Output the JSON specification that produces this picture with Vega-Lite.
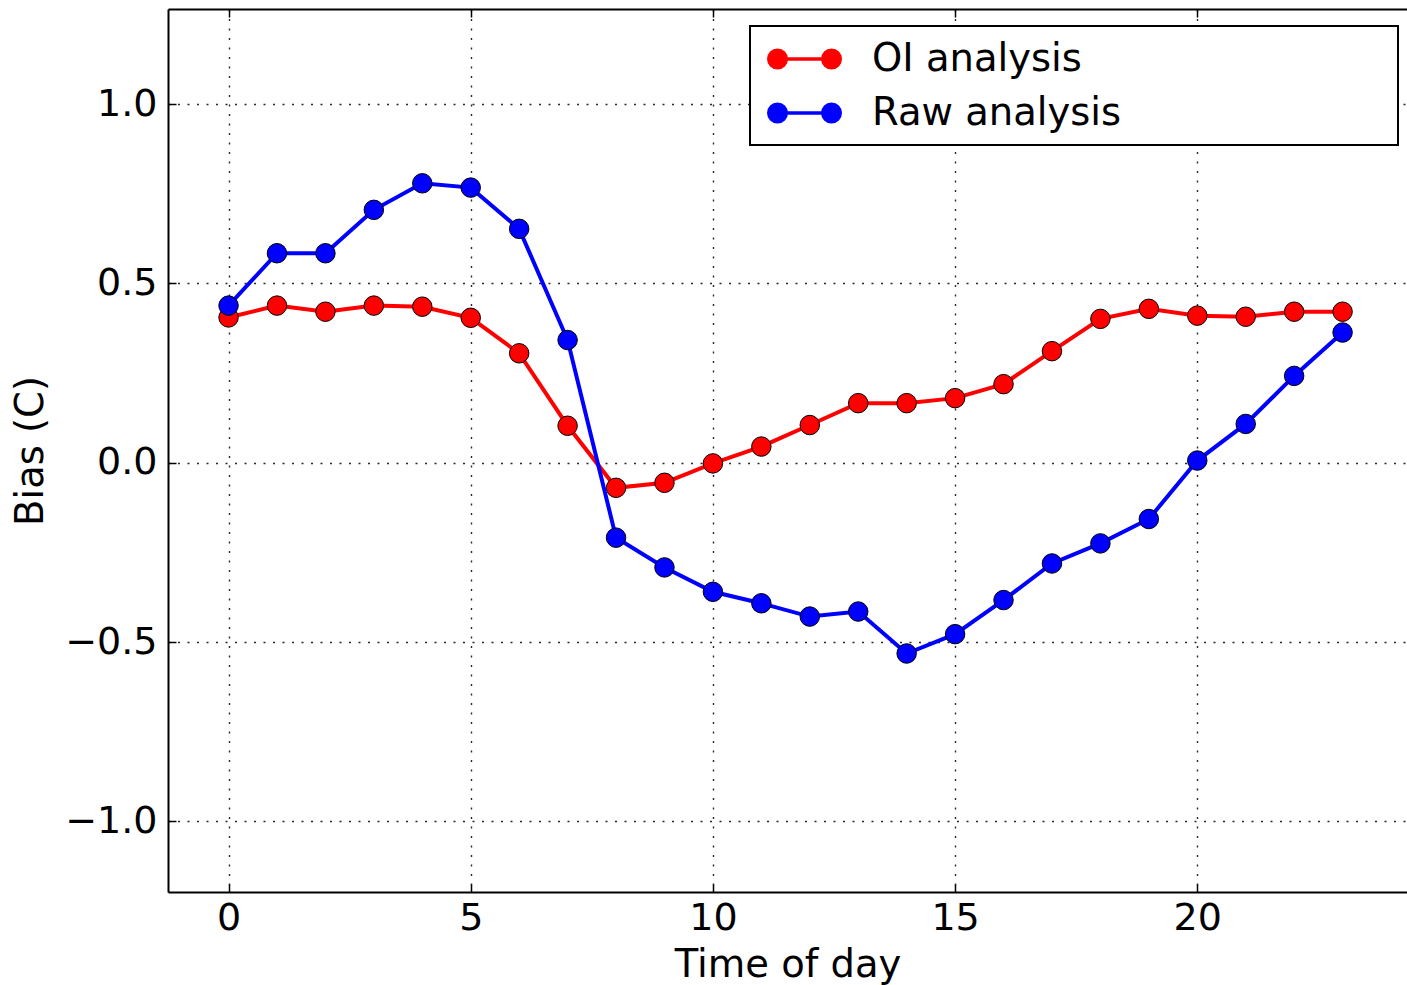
{
  "$schema": "https://vega.github.io/schema/vega-lite/v6.json",
  "width": 1239,
  "height": 883,
  "autosize": {"type": "none"},
  "padding": {"left": 168, "top": 9, "right": 0, "bottom": 93},
  "background": "white",
  "config": {
    "view": {"stroke": null},
    "font": "DejaVu Sans",
    "axis": {
      "labelFont": "DejaVu Sans",
      "labelFontSize": 38,
      "labelColor": "black",
      "titleFont": "DejaVu Sans",
      "titleFontSize": 38.5,
      "titleFontWeight": "normal",
      "titleColor": "black",
      "domainColor": "black",
      "domainWidth": 2,
      "tickColor": "black",
      "tickWidth": 1.5,
      "tickSize": -8,
      "gridColor": "#111111",
      "gridDash": [2, 7.5],
      "gridWidth": 1.4,
      "gridOpacity": 0.9
    }
  },
  "data": {
    "values": [
      {"hour": 0, "series": "OI analysis", "bias": 0.405},
      {"hour": 1, "series": "OI analysis", "bias": 0.438},
      {"hour": 2, "series": "OI analysis", "bias": 0.421},
      {"hour": 3, "series": "OI analysis", "bias": 0.438},
      {"hour": 4, "series": "OI analysis", "bias": 0.435},
      {"hour": 5, "series": "OI analysis", "bias": 0.404},
      {"hour": 6, "series": "OI analysis", "bias": 0.305},
      {"hour": 7, "series": "OI analysis", "bias": 0.103},
      {"hour": 8, "series": "OI analysis", "bias": -0.07},
      {"hour": 9, "series": "OI analysis", "bias": -0.056},
      {"hour": 10, "series": "OI analysis", "bias": -0.002},
      {"hour": 11, "series": "OI analysis", "bias": 0.045},
      {"hour": 12, "series": "OI analysis", "bias": 0.105},
      {"hour": 13, "series": "OI analysis", "bias": 0.166},
      {"hour": 14, "series": "OI analysis", "bias": 0.166},
      {"hour": 15, "series": "OI analysis", "bias": 0.18},
      {"hour": 16, "series": "OI analysis", "bias": 0.219},
      {"hour": 17, "series": "OI analysis", "bias": 0.311},
      {"hour": 18, "series": "OI analysis", "bias": 0.401},
      {"hour": 19, "series": "OI analysis", "bias": 0.429},
      {"hour": 20, "series": "OI analysis", "bias": 0.41},
      {"hour": 21, "series": "OI analysis", "bias": 0.407},
      {"hour": 22, "series": "OI analysis", "bias": 0.421},
      {"hour": 23, "series": "OI analysis", "bias": 0.421},
      {"hour": 0, "series": "Raw analysis", "bias": 0.438},
      {"hour": 1, "series": "Raw analysis", "bias": 0.584},
      {"hour": 2, "series": "Raw analysis", "bias": 0.584},
      {"hour": 3, "series": "Raw analysis", "bias": 0.705},
      {"hour": 4, "series": "Raw analysis", "bias": 0.779},
      {"hour": 5, "series": "Raw analysis", "bias": 0.767},
      {"hour": 6, "series": "Raw analysis", "bias": 0.652},
      {"hour": 7, "series": "Raw analysis", "bias": 0.342},
      {"hour": 8, "series": "Raw analysis", "bias": -0.209},
      {"hour": 9, "series": "Raw analysis", "bias": -0.292},
      {"hour": 10, "series": "Raw analysis", "bias": -0.36},
      {"hour": 11, "series": "Raw analysis", "bias": -0.392},
      {"hour": 12, "series": "Raw analysis", "bias": -0.429},
      {"hour": 13, "series": "Raw analysis", "bias": -0.415},
      {"hour": 14, "series": "Raw analysis", "bias": -0.532},
      {"hour": 15, "series": "Raw analysis", "bias": -0.478},
      {"hour": 16, "series": "Raw analysis", "bias": -0.383},
      {"hour": 17, "series": "Raw analysis", "bias": -0.281},
      {"hour": 18, "series": "Raw analysis", "bias": -0.225},
      {"hour": 19, "series": "Raw analysis", "bias": -0.157},
      {"hour": 20, "series": "Raw analysis", "bias": 0.006},
      {"hour": 21, "series": "Raw analysis", "bias": 0.108},
      {"hour": 22, "series": "Raw analysis", "bias": 0.242},
      {"hour": 23, "series": "Raw analysis", "bias": 0.363}
    ]
  },
  "layer": [
    {
      "encoding": {
        "x": {
          "field": "hour",
          "type": "quantitative",
          "scale": {"domain": [-1.25, 24.33], "nice": false, "zero": false},
          "axis": {
            "orient": "bottom",
            "values": [0, 5, 10, 15, 20],
            "format": "d",
            "grid": true,
            "labelPadding": 15,
            "title": "Time of day",
            "titlePadding": 9
          }
        },
        "y": {
          "field": "bias",
          "type": "quantitative",
          "scale": {"domain": [-1.197, 1.265], "nice": false, "zero": false},
          "axis": {
            "orient": "left",
            "values": [-1, -0.5, 0, 0.5, 1],
            "format": ".1f",
            "grid": true,
            "labelPadding": 19,
            "title": "Bias (C)",
            "titlePadding": 14
          }
        },
        "color": {
          "field": "series",
          "type": "nominal",
          "scale": {"domain": ["OI analysis", "Raw analysis"], "range": ["#ff0000", "#0000ff"]},
          "legend": {
            "orient": "none",
            "legendX": 582,
            "legendY": 17,
            "title": null,
            "padding": 12,
            "rowPadding": 13,
            "labelFont": "DejaVu Sans",
            "labelFontSize": 38.5,
            "labelColor": "black",
            "labelOffset": 68,
            "labelLimit": 2000,
            "labelExpr": "datum.label + '\u00a0\u00a0\u00a0\u00a0\u00a0\u00a0\u00a0\u00a0\u00a0\u00a0\u00a0\u00a0\u00a0\u00a0\u00a0\u00a0\u00a0\u00a0\u00a0\u00a0\u00a0\u2009\u200b'",
            "symbolType": "M-0.289,0L2.553,0M-0.7495,0A0.4605,0.4605 0 1,0 0.1715,0A0.4605,0.4605 0 1,0 -0.7495,0ZM2.0925,0A0.4605,0.4605 0 1,0 3.0135,0A0.4605,0.4605 0 1,0 2.0925,0Z",
            "symbolSize": 1444,
            "symbolStrokeWidth": 3.5,
            "strokeColor": "black",
            "fillColor": "white",
            "encode": {
              "legend": {"update": {"strokeWidth": {"value": 2}}},
              "symbols": {
                "update": {
                  "fill": {"scale": "color", "field": "value"},
                  "stroke": {"scale": "color", "field": "value"},
                  "opacity": {"value": 1},
                  "fillOpacity": {"value": 1},
                  "strokeOpacity": {"value": 1}
                }
              }
            }
          }
        }
      },
      "layer": [
        {
          "transform": [{"filter": "datum.series === 'OI analysis'"}],
          "mark": {"type": "line", "strokeWidth": 4}
        },
        {
          "transform": [{"filter": "datum.series === 'OI analysis'"}],
          "mark": {"type": "point", "filled": true, "size": 380, "stroke": "black", "strokeWidth": 1, "opacity": 1}
        },
        {
          "transform": [{"filter": "datum.series === 'Raw analysis'"}],
          "mark": {"type": "line", "strokeWidth": 4}
        },
        {
          "transform": [{"filter": "datum.series === 'Raw analysis'"}],
          "mark": {"type": "point", "filled": true, "size": 380, "stroke": "black", "strokeWidth": 1, "opacity": 1}
        }
      ]
    },
    {
      "mark": {"type": "point", "opacity": 0},
      "encoding": {
        "x": {
          "field": "hour",
          "type": "quantitative",
          "axis": {
            "orient": "top",
            "values": [0, 5, 10, 15, 20],
            "labels": false,
            "grid": false,
            "title": null
          }
        },
        "y": {
          "field": "bias",
          "type": "quantitative",
          "axis": {
            "orient": "left",
            "values": [-1, -0.5, 0, 0.5, 1],
            "format": ".1f",
            "grid": true,
            "labelPadding": 19,
            "title": "Bias (C)",
            "titlePadding": 14
          }
        }
      }
    }
  ],
  "resolve": {"axis": {"x": "independent"}}
}
